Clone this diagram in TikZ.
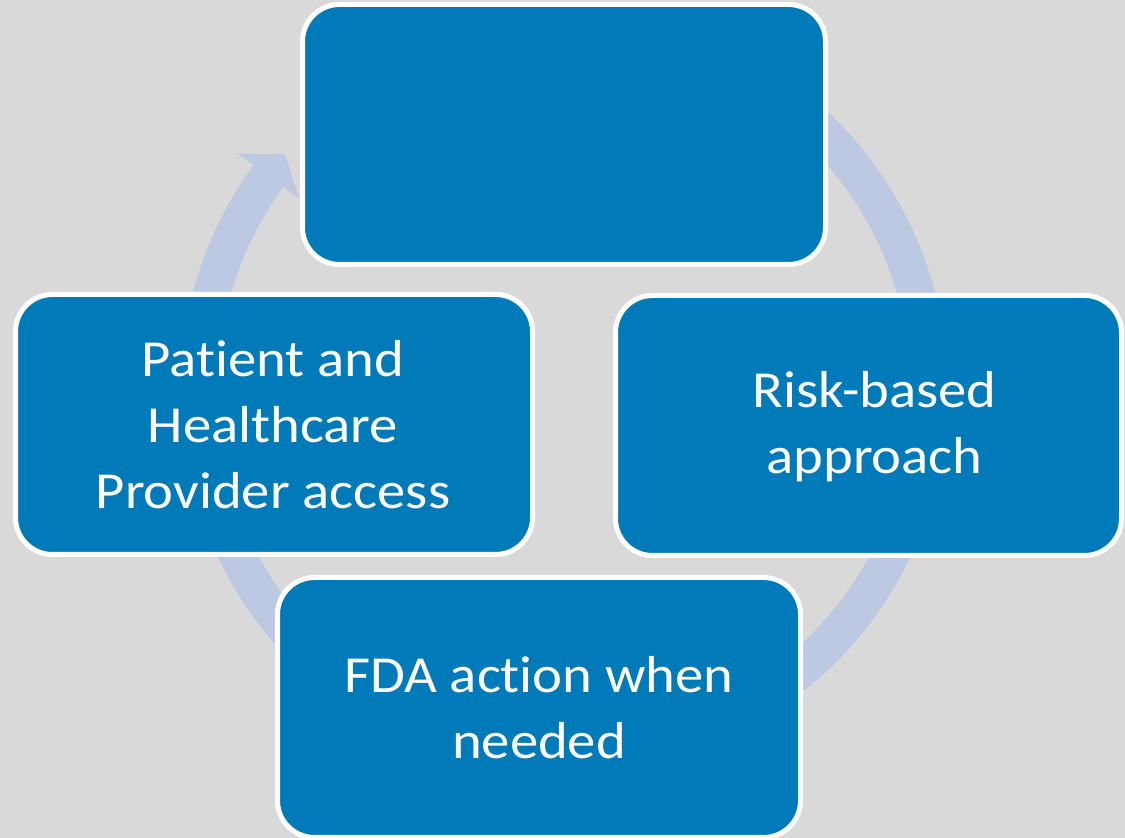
\documentclass[tikz,border=0pt]{standalone}
\usepackage{fontspec}
\setmainfont{Carlito}[FakeStretch=1.09,Ligatures=NoCommon]
\definecolor{bg}{RGB}{217,217,217}
\definecolor{ringc}{RGB}{189,201,226}
\definecolor{boxc}{RGB}{0,122,184}
\tikzset{
  cyclebox/.style={draw=white, line width=5pt, fill=boxc, rounded corners=37pt,
    inner sep=0pt},
  boxtext/.style={text=white, align=center, inner sep=0pt,
    font=\fontsize{52pt}{66pt}\selectfont},
}
\begin{document}
\begin{tikzpicture}[x=1pt,y=1pt]
\fill[bg] (0,0) rectangle (1125,838);
\useasboundingbox (0,0) rectangle (1125,838);
% circular arrow
\begin{scope}[shift={(564,447)}]
  \fill[ringc] (120:384) arc[start angle=120,end angle=-216,radius=384]
     -- (-216:347) arc[start angle=-216,end angle=120,radius=347] -- cycle;
  \fill[ringc] (144:404) -- (139.7:366) -- (144:327) -- cycle;
\end{scope}
% boxes
\node[cyclebox, minimum width=523pt, minimum height=260pt] (top) at (564,703.5) {};
\node[cyclebox, minimum width=517pt, minimum height=260pt] (left) at (274,413.5) {};
\node[cyclebox, minimum width=506pt, minimum height=260pt] (right) at (868.5,412.5) {};
\node[cyclebox, minimum width=523pt, minimum height=260pt] (bottom) at (539,130.5) {};
% texts
\node[boxtext] (lefttext) at (273,413.5) {Patient and\\Healthcare\\Provider access};
\node[boxtext] (righttext) at (874.5,411) {Risk-based\\approach};
\node[boxtext] (bottomtext) at (539,130.5) {FDA action when\\needed};
\end{tikzpicture}
\end{document}
